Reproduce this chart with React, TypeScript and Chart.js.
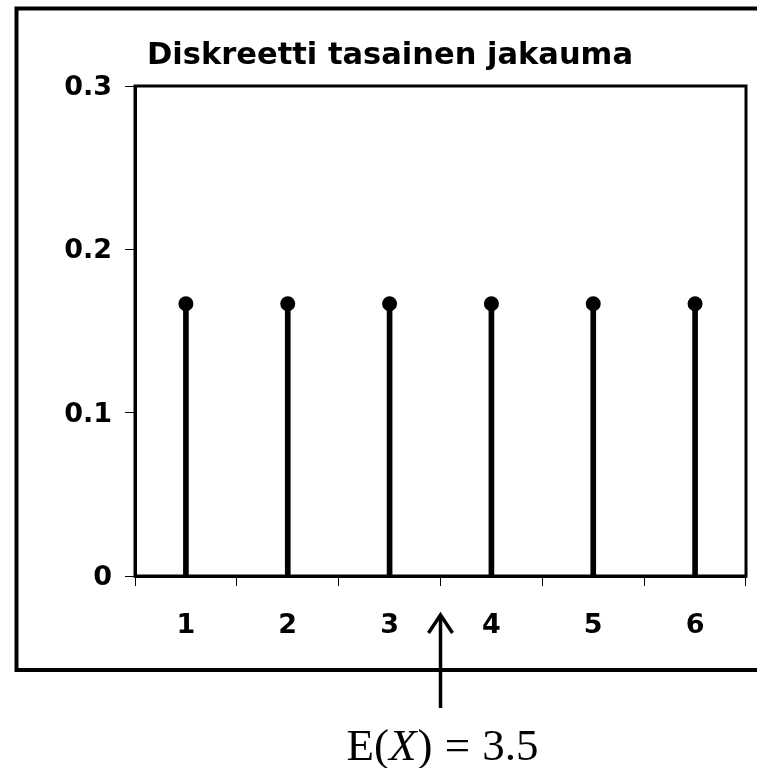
import React, { useEffect, useRef } from 'react';
import { Chart, registerables } from 'chart.js';

Chart.register(...registerables);

const categories = ['1', '2', '3', '4', '5', '6'];
const probabilities = [0.1667, 0.1667, 0.1667, 0.1667, 0.1667, 0.1667];
const yTickValues = [0, 0.1, 0.2, 0.3];
const chartTitle = 'Diskreetti tasainen jakauma';
const expectedValue = 3.5;
const expectationParts = ['E(', 'X', ')', ' = ', '3.5'];

const SANS = '"DejaVu Sans", sans-serif';
const SERIF = '"Liberation Serif", "Times New Roman", serif';

const decorPlugin = {
  id: 'decor',
  beforeDatasetsDraw(chart: any) {
    const { ctx, chartArea: a } = chart;
    ctx.save();
    ctx.strokeStyle = '#000';
    ctx.lineWidth = 3;
    ctx.strokeRect(a.left, a.top, a.right - a.left, a.bottom - a.top);
    ctx.restore();
  },
  afterDraw(chart: any) {
    const { ctx, scales } = chart;
    ctx.save();
    // outer frame (right edge lies beyond the canvas)
    ctx.strokeStyle = '#000';
    ctx.lineWidth = 4;
    ctx.strokeRect(16.5, 8.5, 820, 661.5);

    // title
    ctx.fillStyle = '#000';
    ctx.font = `bold 30.5px ${SANS}`;
    ctx.textAlign = 'center';
    ctx.textBaseline = 'alphabetic';
    ctx.fillText(chartTitle, 390, 64);

    // arrow at expected value
    const x = scales.x.getPixelForValue(expectedValue - Number(categories[0]));
    ctx.lineWidth = 3.5;
    ctx.lineCap = 'butt';
    ctx.lineJoin = 'miter';
    ctx.beginPath();
    ctx.moveTo(x, 708);
    ctx.lineTo(x, 616);
    ctx.stroke();
    ctx.beginPath();
    ctx.moveTo(x - 12, 633);
    ctx.lineTo(x, 615);
    ctx.lineTo(x + 12, 633);
    ctx.stroke();

    // E(X) = 3.5 label
    const size = 45;
    const fonts = [
      `${size}px ${SERIF}`,
      `italic ${size}px ${SERIF}`,
      `${size}px ${SERIF}`,
      `${size}px ${SERIF}`,
      `${size}px ${SERIF}`,
    ];
    const extra = [0, 1, 1, 1, 0];
    let total = 0;
    const widths = expectationParts.map((p, i) => {
      ctx.font = fonts[i];
      const w = ctx.measureText(p).width + extra[i];
      total += w;
      return w;
    });
    let cx = x - total / 2 + 2;
    ctx.textAlign = 'left';
    expectationParts.forEach((p, i) => {
      ctx.font = fonts[i];
      ctx.fillText(p, cx, 760);
      cx += widths[i];
    });
    ctx.restore();
  },
};

export default function App() {
  const canvasRef = useRef<HTMLCanvasElement | null>(null);

  useEffect(() => {
    const canvas = canvasRef.current;
    if (!canvas) return;
    const chart = new Chart(canvas, {
      data: {
        labels: categories,
        datasets: [
          {
            type: 'line',
            data: probabilities,
            showLine: false,
            pointRadius: 7.5,
            pointHoverRadius: 7.5,
            pointBackgroundColor: '#000',
            pointBorderWidth: 0,
            borderColor: '#000',
            order: 0,
          } as any,
          {
            type: 'bar',
            data: probabilities,
            backgroundColor: '#000',
            borderWidth: 0,
            barThickness: 5,
            order: 1,
          } as any,
        ],
      },
      options: {
        responsive: false,
        animation: false,
        events: [],
        layout: { padding: { left: 0, top: 86, right: 11, bottom: 112 } },
        plugins: {
          legend: { display: false },
          title: { display: false },
          tooltip: { enabled: false },
        },
        scales: {
          x: {
            type: 'category',
            offset: true,
            grid: {
              offset: true,
              drawOnChartArea: false,
              drawTicks: true,
              tickLength: 10,
              color: '#000',
              lineWidth: 1,
            },
            border: { display: true, color: '#000', width: 3 },
            ticks: {
              color: '#000',
              font: { family: SANS, size: 27, weight: 'bold' },
              padding: 24,
              maxRotation: 0,
            },
            afterFit: (s: any) => {
              s.height = 80;
            },
          },
          y: {
            type: 'linear',
            min: yTickValues[0],
            max: yTickValues[yTickValues.length - 1],
            afterBuildTicks: (s: any) => {
              s.ticks = yTickValues.map((v) => ({ value: v }));
            },
            grid: {
              drawOnChartArea: false,
              drawTicks: true,
              tickLength: 10,
              color: '#000',
              lineWidth: 1,
            },
            border: { display: true, color: '#000', width: 3 },
            ticks: {
              color: '#000',
              font: { family: SANS, size: 27, weight: 'bold' },
              padding: 13,
              labelOffset: 2,
              callback: (v: any) => String(v),
            },
            afterFit: (s: any) => {
              s.width = 135;
            },
          },
        },
      } as any,
      plugins: [decorPlugin],
    });
    return () => chart.destroy();
  }, []);

  return (
    <div style={{ position: 'absolute', left: 0, top: 0, width: 757, height: 768, background: '#fff' }}>
      <canvas ref={canvasRef} width={757} height={768} style={{ display: 'block' }} />
    </div>
  );
}
